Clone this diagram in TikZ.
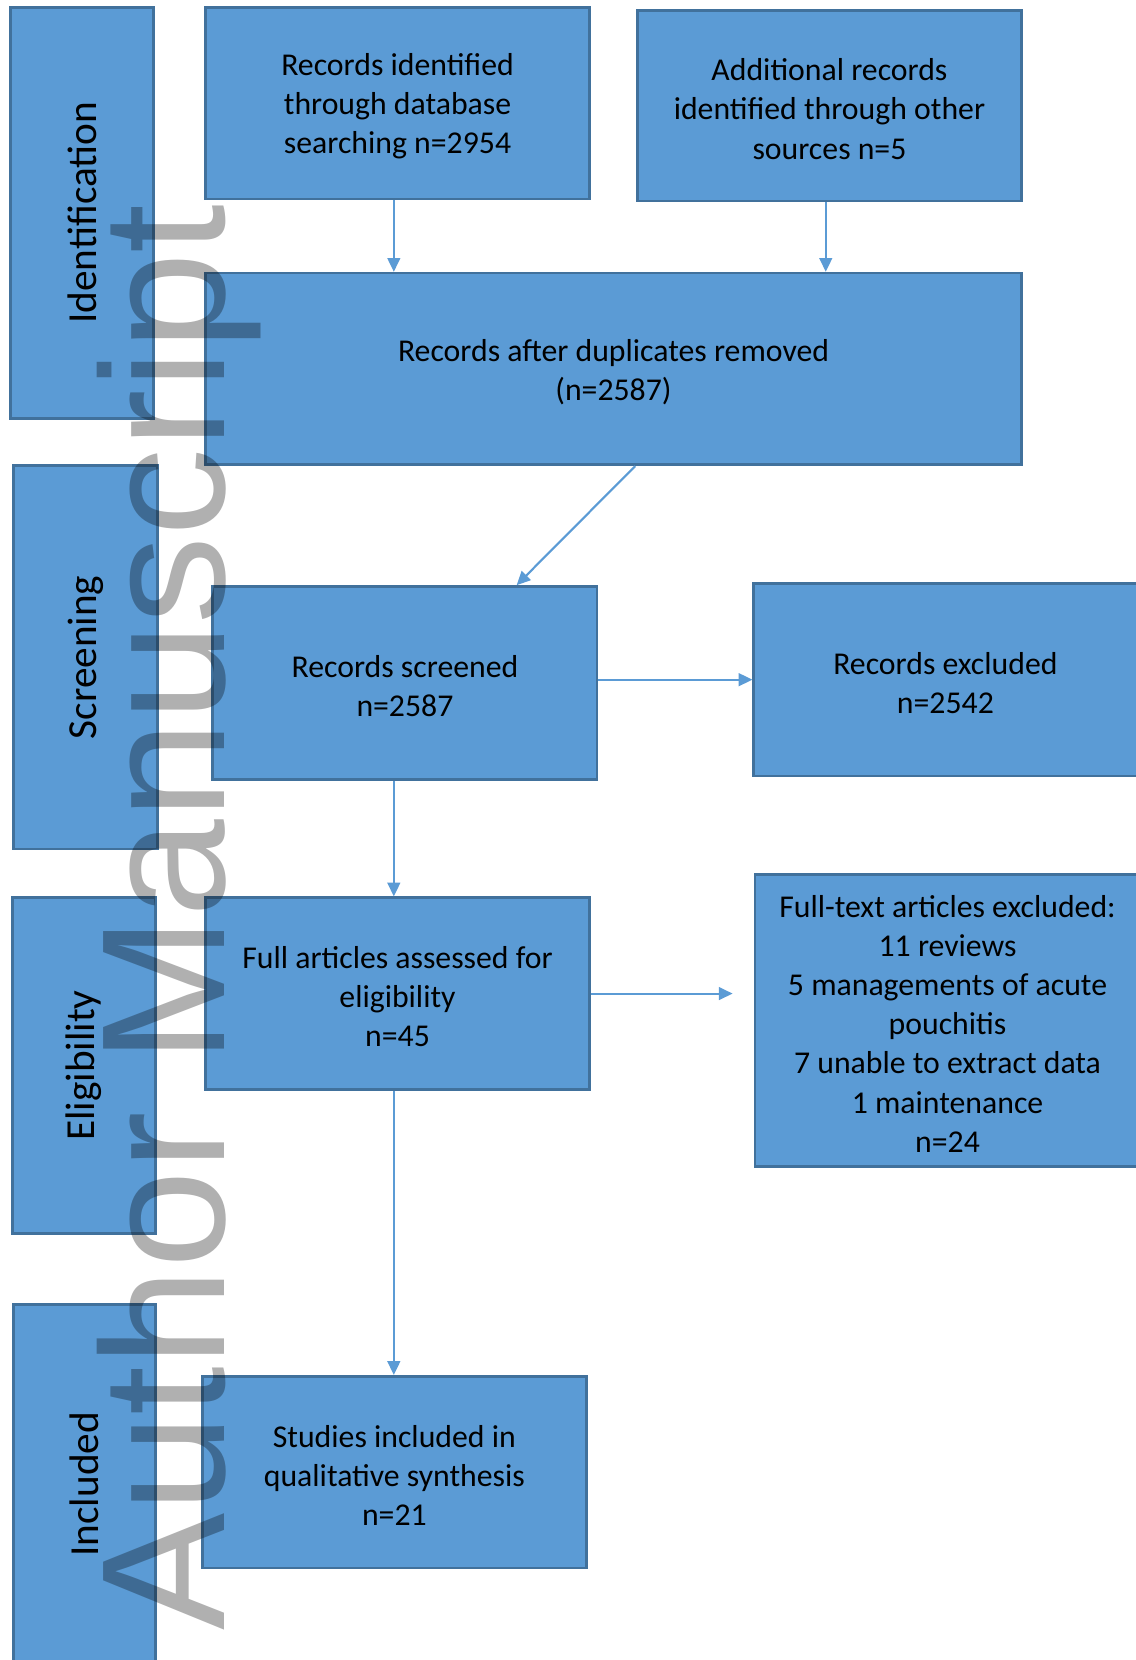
\documentclass[tikz,border=0pt]{standalone}
\usepackage{fontspec}
\setmainfont{Carlito}
\newfontfamily\wmfont{Liberation Sans}
\usetikzlibrary{arrows.meta,calc}
\definecolor{boxfill}{HTML}{5B9BD5}
\definecolor{boxline}{HTML}{41719C}
\tikzset{
  box/.style={draw=boxline, fill=boxfill, line width=2.5pt, inner sep=0pt},
  boxtext/.style={inner sep=0pt, align=center, yshift=-3pt,
    font=\fontsize{30}{37}\selectfont},
  sidebox/.style={draw=boxline, fill=boxfill, line width=2.5pt, inner sep=0pt},
  sidelabel/.style={rotate=90, font=\fontsize{39}{45}\selectfont, inner sep=0pt},
  conn/.style={draw=boxfill, line width=2pt, -{Triangle[length=13pt,width=12pt]}},
}
\begin{document}
\begin{tikzpicture}[x=1pt,y=-1pt]
\useasboundingbox (0,0) rectangle (1073,1568);
\fill[white] (0,0) rectangle (1073,1568);
\clip (0,0) rectangle (1073,1568);

% side phase boxes
\node[sidebox, minimum width=135pt, minimum height=388pt] (idbox) at (77.5,201) {};
\node[sidelabel] (idlab) at (idbox.center) {Identification};
\node[sidebox, minimum width=136pt, minimum height=362pt] (scbox) at (81,621) {};
\node[sidelabel] (sclab) at (scbox.center) {Screening};
\node[sidebox, minimum width=135pt, minimum height=317pt] (elbox) at (79.5,1006.5) {};
\node[sidelabel] (ellab) at (elbox.center) {Eligibility};
\node[sidebox, minimum width=134pt, minimum height=340pt] (inbox) at (80,1402) {};
\node[sidelabel] (inlab) at (inbox.center) {Included};

% flow boxes
\node[box, minimum width=363pt, minimum height=181pt] (rid) at (375.5,97.5) {};
\node[boxtext] (ridt) at (rid.center) {Records identified\\through database\\searching n=2954};
\node[box, minimum width=363pt, minimum height=180pt] (add) at (783.5,100) {};
\node[boxtext] (addt) at (add.center) {Additional records\\identified through other\\sources n=5};
\node[box, minimum width=771pt, minimum height=181pt] (dup) at (579.5,348.5) {};
\node[boxtext] (dupt) at (dup.center) {Records after duplicates removed\\(n=2587)};
\node[box, minimum width=363pt, minimum height=182pt] (scr) at (382.5,645) {};
\node[boxtext] (scrt) at (scr.center) {Records screened\\n=2587};
\node[box, minimum width=362pt, minimum height=182pt] (exc) at (893,642) {};
\node[boxtext] (exct) at (exc.center) {Records excluded\\n=2542};
\node[box, minimum width=363pt, minimum height=181pt] (full) at (375.5,938.5) {};
\node[boxtext] (fullt) at (full.center) {Full articles assessed for\\eligibility\\n=45};
\node[box, minimum width=364pt, minimum height=276pt] (fexc) at (895,964) {};
\node[boxtext] (fexct) at (fexc.center) {Full-text articles excluded:\\11 reviews\\5 managements of acute\\pouchitis\\7 unable to extract data\\1 maintenance\\n=24};
\node[box, minimum width=363pt, minimum height=181pt] (stud) at (372.5,1390.5) {};
\node[boxtext] (studt) at (stud.center) {Studies included in\\qualitative synthesis\\n=21};

% connectors
\coordinate (fe) at (692,938.5);
\draw[conn] ([xshift=-3.5pt]rid.south) -- ([xshift=-3.5pt]rid.south |- dup.north);
\draw[conn] ([xshift=-3.5pt]add.south) -- ([xshift=-3.5pt]add.south |- dup.north);
\draw[conn] ([xshift=20.5pt]dup.south) -- ([xshift=105.5pt]scr.north);
\draw[conn] ([yshift=3pt]scr.east) -- ([yshift=3pt]scr.east -| exc.west);
\draw[conn] ([xshift=-10.5pt]scr.south) -- ([xshift=-10.5pt]scr.south |- full.north);
\draw[conn] (full.east) -- (fe);
\draw[conn] ([xshift=-3.5pt]full.south) -- ([xshift=-3.5pt]full.south |- stud.north);

% watermark
\node[rotate=90, anchor=base west, inner sep=0pt, text=black, text opacity=0.31,
  font=\wmfont\fontsize{166}{166}\selectfont] (wm) at (212,1540) {Author Manuscript};
\end{tikzpicture}
\end{document}
